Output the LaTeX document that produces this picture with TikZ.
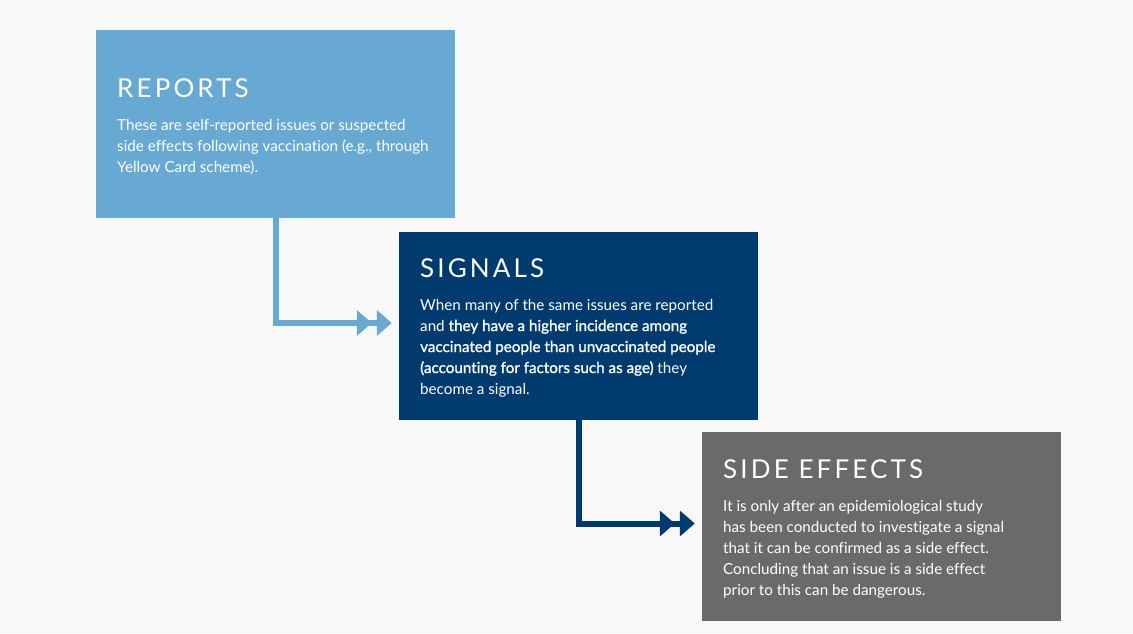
\documentclass[tikz,border=0pt]{standalone}
\usepackage{fontspec}
\setmainfont{Lato}[Ligatures=NoCommon]
\newfontfamily\titlefont[LetterSpace=12]{Lato}
\newfontface\semib{Lato}[FakeBold=1.2,Ligatures=NoCommon]
\usetikzlibrary{arrows.meta}
\definecolor{bgc}{HTML}{F8F8F8}
\definecolor{lblue}{HTML}{68A9D4}
\definecolor{navy}{HTML}{003B6F}
\definecolor{grayc}{HTML}{6A6A6A}
\tikzset{
  box/.style={draw=none, minimum width=359pt, minimum height=188pt, inner sep=0pt},
  ttl/.style={anchor=base west, inner sep=0pt, text=white, font=\titlefont\fontsize{26}{26}\selectfont},
  bodyline/.style={anchor=base west, inner sep=0pt, text=white, font=\fontsize{15.2}{21}\selectfont},
  conn/.style={line width=6pt, -{Triangle[length=15pt,width=25pt,sep=5pt]Triangle[length=15pt,width=25pt]}},
}
\begin{document}
\begin{tikzpicture}[x=1pt,y=-1pt]
\fill[bgc] (0,0) rectangle (1133,633);
\useasboundingbox (0,0) rectangle (1133,633);
\node[box, fill=lblue] (reports) at (275.5,124) {};
\node[box, fill=navy] (signals) at (578.5,326) {};
\node[box, fill=grayc, minimum height=189pt] (side) at (881.5,526.5) {};
% connectors
\draw[conn, lblue] (reports.south) |- ([xshift=-7pt,yshift=3pt]signals.west);
\draw[conn, navy] (signals.south) |- ([xshift=-7pt,yshift=3pt]side.west);
% titles
\node[ttl] (t1) at (117,97) {REPORTS};
\node[ttl] (t2) at (420,277) {SIGNALS};
\node[ttl] (t3) at (723,478) {SIDE EFFECTS};
% body reports
\node[bodyline] (r1) at (117,130) {These are self-reported issues or suspected};
\node[bodyline] (r2) at (117,151) {side effects following vaccination (e.g., through};
\node[bodyline] (r3) at (117,172) {Yellow Card scheme).};
% body signals
\node[bodyline] (s1) at (420,310) {When many of the same issues are reported};
\node[bodyline] (s2) at (420,331) {and {\semib they have a higher incidence among}};
\node[bodyline] (s3) at (420,352) {\semib vaccinated people than unvaccinated people};
\node[bodyline] (s4) at (420,373) {{\semib (accounting for factors such as age)} they};
\node[bodyline] (s5) at (420,394) {become a signal.};
% body side effects
\node[bodyline] (e1) at (723,511) {It is only after an epidemiological study};
\node[bodyline] (e2) at (723,532) {has been conducted to investigate a signal};
\node[bodyline] (e3) at (723,553) {that it can be confirmed as a side effect.};
\node[bodyline] (e4) at (723,574) {Concluding that an issue is a side effect};
\node[bodyline] (e5) at (723,595) {prior to this can be dangerous.};
\end{tikzpicture}
\end{document}
